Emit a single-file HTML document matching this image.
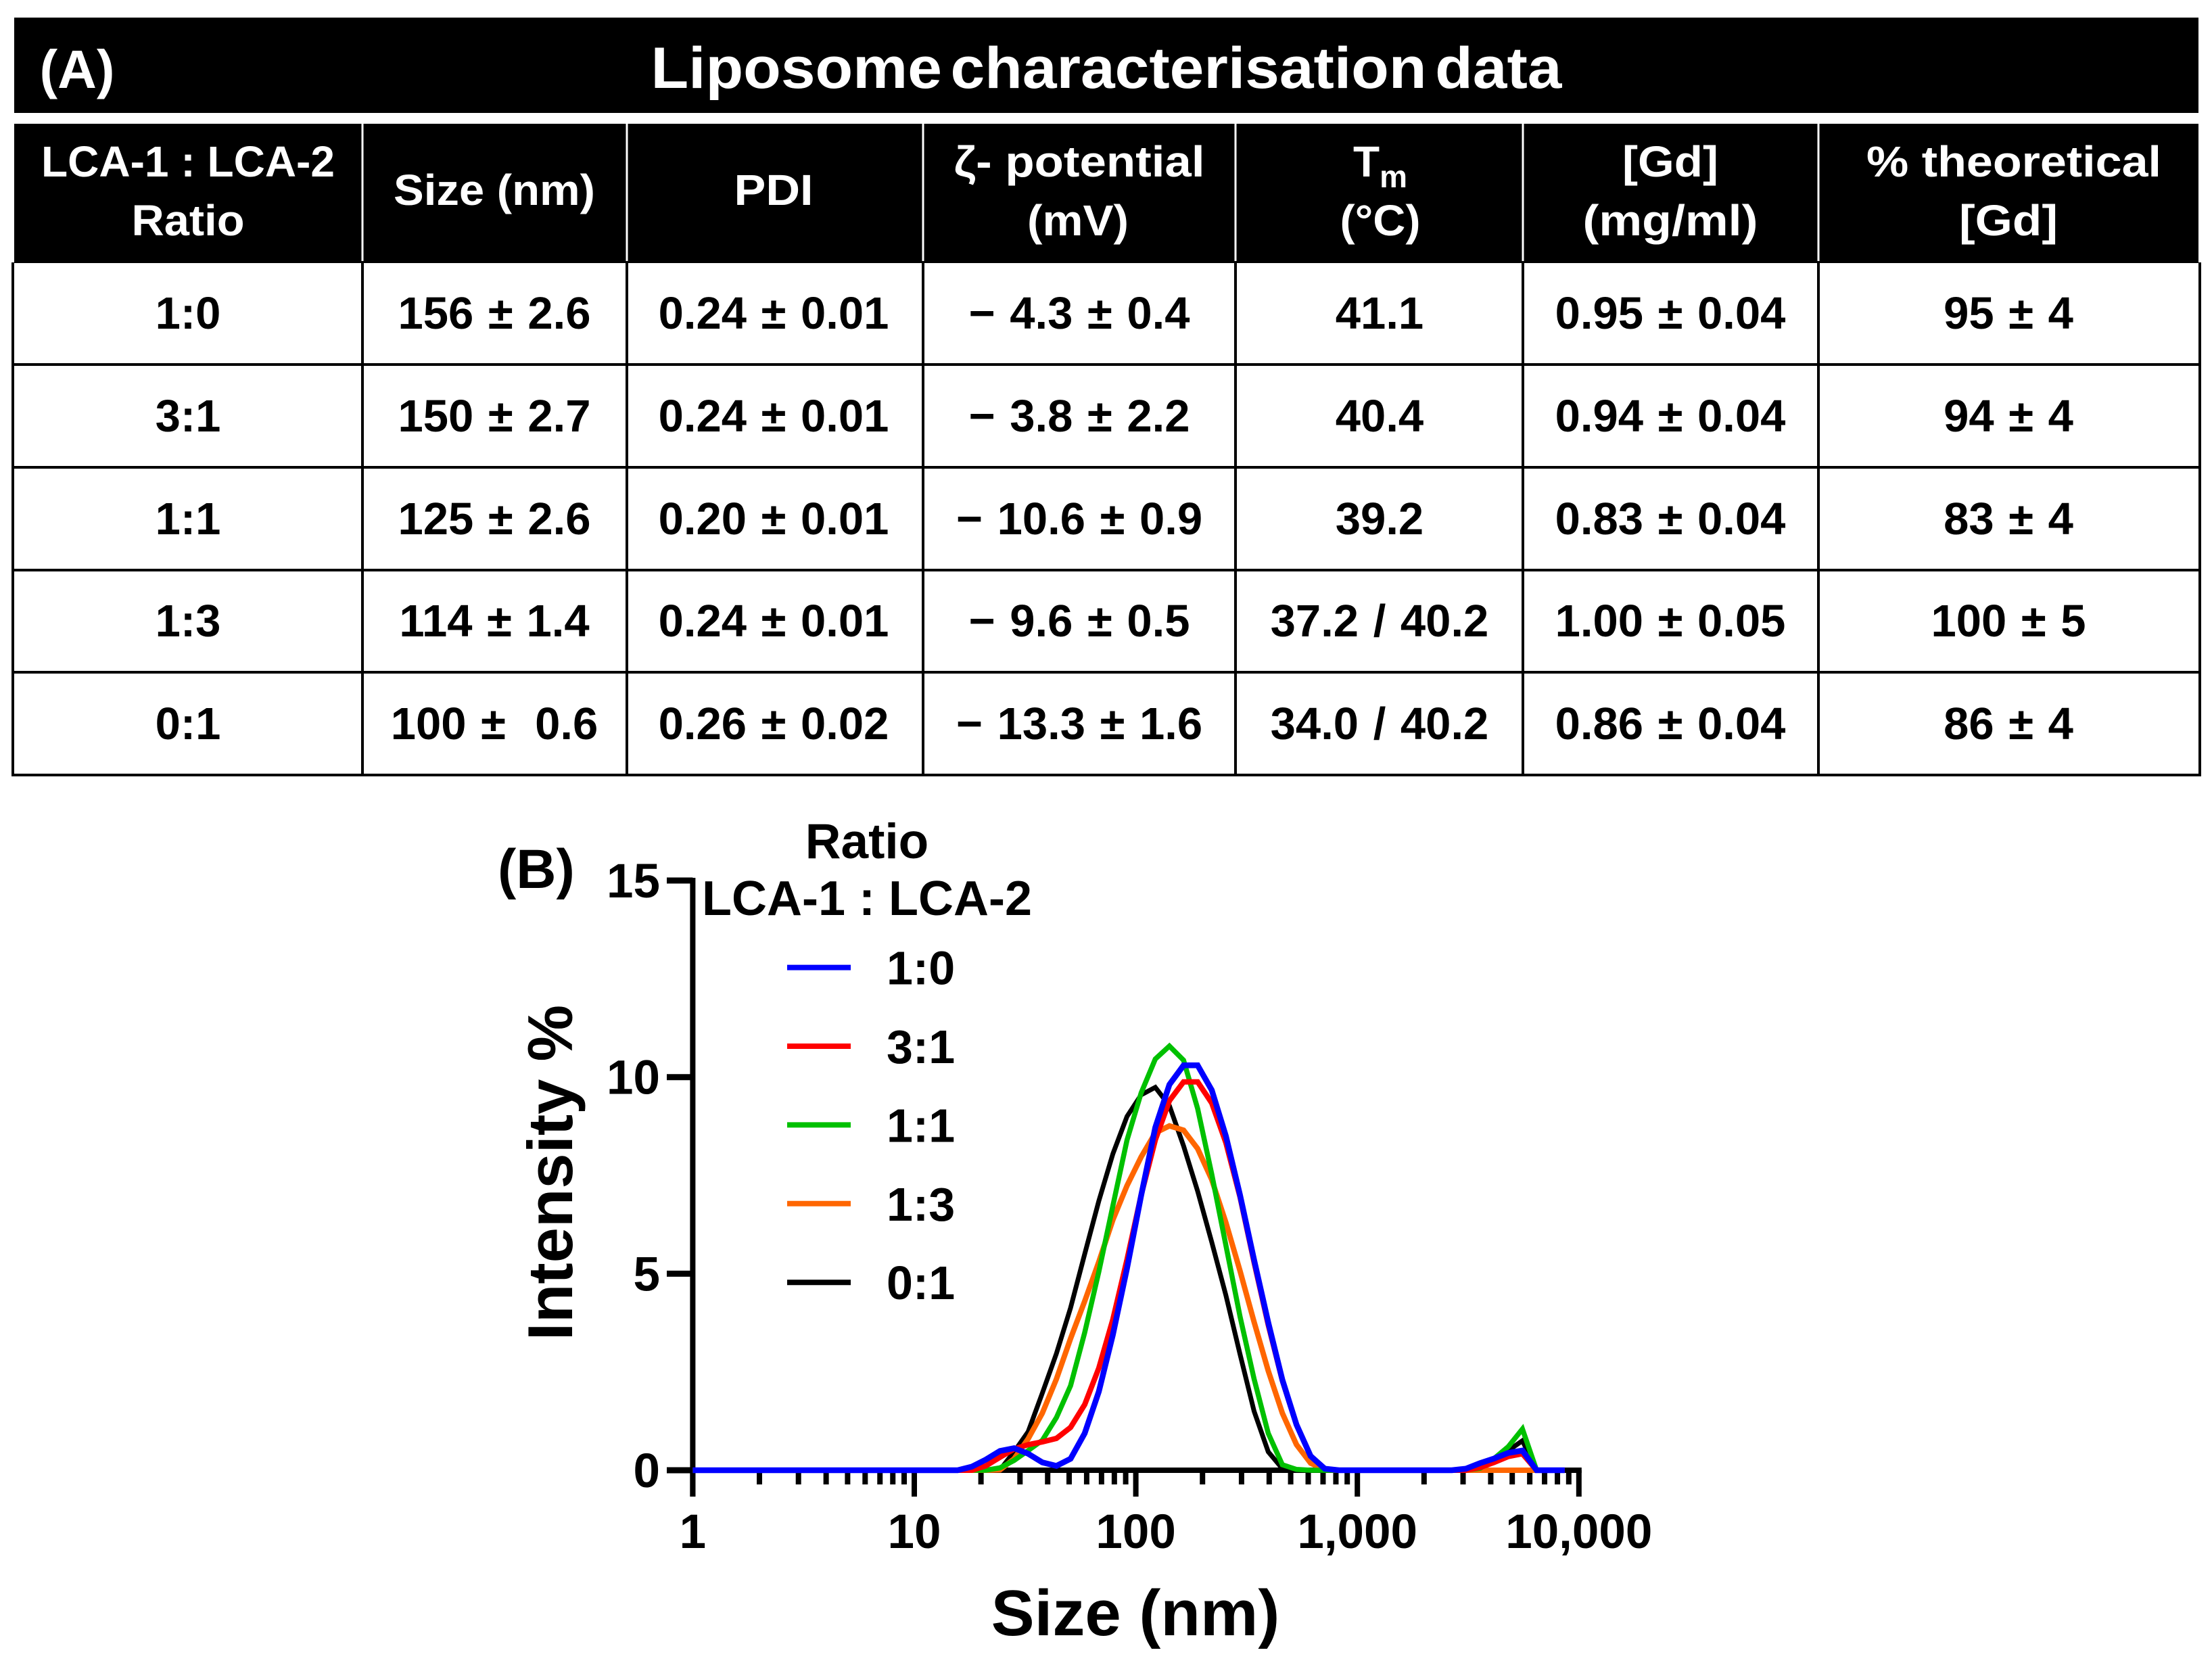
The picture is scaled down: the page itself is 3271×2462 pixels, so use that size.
<!DOCTYPE html>
<html lang="en">
<head>
<meta charset="utf-8">
<title>Liposome characterisation data</title>
<style>
html,body{margin:0;padding:0;background:#fff;width:3271px;height:2462px;overflow:hidden}
svg{display:block}
text{font-family:"Liberation Sans",sans-serif;font-weight:700}
#table-panel text{text-anchor:middle}
.hd{fill:#fff;font-size:64px}
.bd{fill:#000;font-size:67px;word-spacing:3px;white-space:pre}
.rule{stroke:#000;stroke-width:4}
.hrule{stroke:#fff;stroke-width:3}
</style>
</head>
<body>
<svg id="figure" xmlns="http://www.w3.org/2000/svg" width="3271" height="2462" viewBox="0 0 3271 2462">
<rect width="3271" height="2462" fill="#fff"/>
<g id="table-panel">
  <rect x="21" y="26" width="3230" height="141" fill="#000"/>
  <text x="114" y="130" font-size="80" fill="#fff">(A)</text>
  <text x="1636" y="130" font-size="86" fill="#fff" word-spacing="-12" textLength="1347" lengthAdjust="spacingAndGlyphs">Liposome characterisation data</text>
  <rect x="21" y="183" width="3230" height="206" fill="#000"/>
  <g>
    <line class="hrule" x1="536" x2="536" y1="183" y2="386"/><line class="hrule" x1="927" x2="927" y1="183" y2="386"/><line class="hrule" x1="1365" x2="1365" y1="183" y2="386"/><line class="hrule" x1="1827" x2="1827" y1="183" y2="386"/><line class="hrule" x1="2252" x2="2252" y1="183" y2="386"/><line class="hrule" x1="2689" x2="2689" y1="183" y2="386"/>
  </g>
  <g>
    <line class="rule" x1="19" x2="19" y1="388" y2="1147"/><line class="rule" x1="536" x2="536" y1="388" y2="1147"/><line class="rule" x1="927" x2="927" y1="388" y2="1147"/><line class="rule" x1="1365" x2="1365" y1="388" y2="1147"/><line class="rule" x1="1827" x2="1827" y1="388" y2="1147"/><line class="rule" x1="2252" x2="2252" y1="388" y2="1147"/><line class="rule" x1="2689" x2="2689" y1="388" y2="1147"/><line class="rule" x1="3253" x2="3253" y1="388" y2="1147"/>
    <line class="rule" x1="17" x2="3255" y1="539" y2="539"/><line class="rule" x1="17" x2="3255" y1="691" y2="691"/><line class="rule" x1="17" x2="3255" y1="843" y2="843"/><line class="rule" x1="17" x2="3255" y1="994" y2="994"/><line class="rule" x1="17" x2="3255" y1="1146" y2="1146"/>
  </g>
  <g>
    <text class="hd" x="278" y="261" textLength="434" lengthAdjust="spacingAndGlyphs">LCA-1 : LCA-2</text>
    <text class="hd" x="278" y="348" textLength="167" lengthAdjust="spacingAndGlyphs">Ratio</text>
    <text class="hd" x="731" y="303" textLength="298" lengthAdjust="spacingAndGlyphs">Size (nm)</text>
    <text class="hd" x="1144" y="303" textLength="117" lengthAdjust="spacingAndGlyphs">PDI</text>
    <text class="hd" x="1596" y="261" textLength="371" lengthAdjust="spacingAndGlyphs">ζ- potential</text>
    <text class="hd" x="1594" y="348" textLength="150" lengthAdjust="spacingAndGlyphs">(mV)</text>
    <text class="hd" x="2041" y="261">T<tspan font-size="46" dy="16">m</tspan></text>
    <text class="hd" x="2041" y="348" textLength="119" lengthAdjust="spacingAndGlyphs">(°C)</text>
    <text class="hd" x="2470" y="261" textLength="142" lengthAdjust="spacingAndGlyphs">[Gd]</text>
    <text class="hd" x="2470" y="348" textLength="259" lengthAdjust="spacingAndGlyphs">(mg/ml)</text>
    <text class="hd" x="2978" y="261" textLength="436" lengthAdjust="spacingAndGlyphs">% theoretical</text>
    <text class="hd" x="2970" y="348" textLength="146" lengthAdjust="spacingAndGlyphs">[Gd]</text>
  </g>
  <g>
    <text class="bd" x="278" y="486">1:0</text><text class="bd" x="731" y="486">156 ± 2.6</text><text class="bd" x="1144" y="486">0.24 ± 0.01</text><text class="bd" x="1596" y="486">− 4.3 ± 0.4</text><text class="bd" x="2040" y="486">41.1</text><text class="bd" x="2470" y="486">0.95 ± 0.04</text><text class="bd" x="2970" y="486">95 ± 4</text>
  </g>
  <g>
    <text class="bd" x="278" y="638">3:1</text><text class="bd" x="731" y="638">150 ± 2.7</text><text class="bd" x="1144" y="638">0.24 ± 0.01</text><text class="bd" x="1596" y="638">− 3.8 ± 2.2</text><text class="bd" x="2040" y="638">40.4</text><text class="bd" x="2470" y="638">0.94 ± 0.04</text><text class="bd" x="2970" y="638">94 ± 4</text>
  </g>
  <g>
    <text class="bd" x="278" y="790">1:1</text><text class="bd" x="731" y="790">125 ± 2.6</text><text class="bd" x="1144" y="790">0.20 ± 0.01</text><text class="bd" x="1596" y="790">− 10.6 ± 0.9</text><text class="bd" x="2040" y="790">39.2</text><text class="bd" x="2470" y="790">0.83 ± 0.04</text><text class="bd" x="2970" y="790">83 ± 4</text>
  </g>
  <g>
    <text class="bd" x="278" y="941">1:3</text><text class="bd" x="731" y="941">114 ± 1.4</text><text class="bd" x="1144" y="941">0.24 ± 0.01</text><text class="bd" x="1596" y="941">− 9.6 ± 0.5</text><text class="bd" x="2040" y="941">37.2 / 40.2</text><text class="bd" x="2470" y="941">1.00 ± 0.05</text><text class="bd" x="2970" y="941">100 ± 5</text>
  </g>
  <g>
    <text class="bd" x="278" y="1093">0:1</text><text class="bd" x="731" y="1093">100 ±  0.6</text><text class="bd" x="1144" y="1093">0.26 ± 0.02</text><text class="bd" x="1596" y="1093">− 13.3 ± 1.6</text><text class="bd" x="2040" y="1093">34.0 / 40.2</text><text class="bd" x="2470" y="1093">0.86 ± 0.04</text><text class="bd" x="2970" y="1093">86 ± 4</text>
  </g>
</g>
<g id="chart-panel">
  <text x="736" y="1313" font-size="82">(B)</text>
  <text x="0" y="0" font-size="94" text-anchor="middle" transform="translate(846 1734) rotate(-90)">Intensity %</text>
  <text x="1679" y="2418" font-size="96" text-anchor="middle">Size (nm)</text>
  <text x="1282" y="1269" font-size="73" text-anchor="middle">Ratio</text>
  <text x="1282" y="1353" font-size="72" text-anchor="middle">LCA-1 : LCA-2</text>
  <g id="axes"></g>
  <g id="series"></g>
  <g id="legend"></g>
</g>
</svg>
<script>
var seriesLabels = ['0:1', '1:3', '1:1', '3:1', '1:0'];
var seriesColors = ['#000000', '#ff6600', '#00c000', '#ff0000', '#0000ff'];
var legendOrder = ['1:0', '3:1', '1:1', '1:3', '0:1'];
var sizes = [1, 1.117, 1.294, 1.499, 1.736, 2.01, 2.328, 2.696, 3.122, 3.615, 4.187, 4.849, 5.615, 6.503, 7.531, 8.721, 10.1, 11.7, 13.54, 15.69, 18.17, 21.04, 24.36, 28.21, 32.67, 37.84, 43.82, 50.75, 58.77, 68.06, 78.82, 91.28, 105.7, 122.4, 141.8, 164.2, 190.1, 220.2, 255, 295.3, 342, 396.1, 458.7, 531.2, 615.1, 712.4, 825, 955.4, 1106, 1281, 1484, 1718, 1990, 2305, 2669, 3091, 3580, 4145, 4801, 5560, 6439, 7456, 8635];
var ratio1to0 = [0,0,0,0,0,0,0,0,0,0,0,0,0,0,0,0,0,0,0,0, 0.09,0.27,0.49,0.56,0.42,0.2,0.11,0.29,0.94,2.0,3.45,5.14,6.99,8.72,9.81,10.3,10.3,9.67,8.5,7.0,5.35,3.76,2.3,1.16,0.36,0.04,0, 0,0,0,0,0,0, 0,0,0.04,0.18,0.3,0.44,0.5,0,0,0];
var ratio3to1 = [0,0,0,0,0,0,0,0,0,0,0,0,0,0,0,0,0,0,0,0, 0,0.11,0.33,0.54,0.65,0.72,0.81,1.09,1.67,2.6,3.84,5.36,7.0,8.4,9.4,9.88,9.88,9.34,8.33,6.95,5.29,3.7,2.28,1.16,0.36,0.04,0, 0,0,0,0,0,0, 0,0,0,0.07,0.2,0.35,0.42,0,0,0];
var ratio1to1 = [0,0,0,0,0,0,0,0,0,0,0,0,0,0,0,0,0,0,0,0, 0,0,0.06,0.25,0.5,0.76,1.34,2.15,3.5,5.05,6.73,8.4,9.6,10.46,10.79,10.43,9.2,7.53,5.72,3.91,2.32,0.94,0.14,0.02,0,0,0, 0,0,0,0,0,0, 0,0,0,0.05,0.3,0.6,1.05,0,0,0];
var ratio1to3 = [0,0,0,0,0,0,0,0,0,0,0,0,0,0,0,0,0,0,0,0, 0,0,0.01,0.29,0.8,1.45,2.32,3.35,4.3,5.3,6.37,7.24,7.97,8.58,8.76,8.65,8.18,7.39,6.3,5.07,3.77,2.53,1.45,0.65,0.18,0.01,0, 0,0,0,0,0,0, 0,0,0,0,0,0,0,0,0,0];
var ratio0to1 = [0,0,0,0,0,0,0,0,0,0,0,0,0,0,0,0,0,0,0,0, 0,0,0.01,0.47,0.98,1.96,2.97,4.13,5.5,6.85,8.05,9.0,9.55,9.74,9.27,8.25,7.1,5.8,4.45,2.95,1.5,0.47,0.04,0,0,0,0, 0,0,0,0,0,0, 0,0,0,0.07,0.3,0.5,0.75,0,0,0];
var xTickValues = [1, 10, 100, 1000, 10000];
var xTickLabels = ['1', '10', '100', '1,000', '10,000'];
var yTickValues = [0, 5, 10, 15];
var yTickLabels = ['0', '5', '10', '15'];

var NS = 'http://www.w3.org/2000/svg';
var X0 = 1024.4, XDECADE = 327.6, Y0 = 2174, YUNIT = 58.13;
var lineWidths = [7, 8, 7.5, 8, 8.5];
function xScale(v) { return X0 + XDECADE * Math.log10(v); }
function yScale(v) { return Y0 - YUNIT * v; }
function mk(tag, parent, attrs, text) {
  var el = document.createElementNS(NS, tag);
  for (var k in attrs) el.setAttribute(k, attrs[k]);
  if (text !== undefined) el.textContent = text;
  parent.appendChild(el);
  return el;
}
var axes = document.getElementById('axes');
var seriesGroup = document.getElementById('series');
var legend = document.getElementById('legend');
var seriesValues = [ratio0to1, ratio1to3, ratio1to1, ratio3to1, ratio1to0];
var el;

el = mk('line', axes, {x1: xScale(1), x2: xScale(1), y1: yScale(15) - 4, y2: Y0 + 39, stroke: '#000', 'stroke-width': 8});


el = mk('line', axes, {x1: 986, x2: xScale(10000) + 4, y1: Y0, y2: Y0, stroke: '#000', 'stroke-width': 8});



yTickValues.forEach(function (v, i) {
  var t = mk('line', axes, {x1: 986, x2: xScale(1), y1: yScale(v), y2: yScale(v), stroke: '#000', 'stroke-width': 9});
  
  
  var l = mk('text', axes, {x: 976, y: yScale(v) + 25, 'font-size': 71, 'text-anchor': 'end'}, yTickLabels[i]);
  
  
});

xTickValues.forEach(function (v, i) {
  var t = mk('line', axes, {x1: xScale(v), x2: xScale(v), y1: Y0, y2: 2213, stroke: '#000', 'stroke-width': 8});
  
  
  var l = mk('text', axes, {x: xScale(v), y: 2289, 'font-size': 71, 'text-anchor': 'middle'}, xTickLabels[i]);
  
  
  if (i < xTickValues.length - 1) {
    for (var m = 2; m < 10; m++) {
      var mt = mk('line', axes, {x1: xScale(v * m), x2: xScale(v * m), y1: Y0, y2: 2195, stroke: '#000', 'stroke-width': 8});
      
      
    }
  }
});

seriesValues.forEach(function (vals, s) {
  var pts = vals.map(function (v, i) { return xScale(sizes[i]).toFixed(1) + ',' + yScale(v).toFixed(1); }).join(' ');
  var line = mk('polyline', seriesGroup, {points: pts, fill: 'none', stroke: seriesColors[s], 'stroke-width': lineWidths[s], 'stroke-linejoin': 'miter', 'stroke-miterlimit': 8});
  
  
});

legendOrder.forEach(function (label, i) {
  var s = seriesLabels.indexOf(label);
  var y = 1430.6 + i * 116.4;
  var sw = mk('line', legend, {x1: 1164, x2: 1258, y1: y, y2: y, stroke: seriesColors[s], 'stroke-width': 8});
  
  
  var tx = mk('text', legend, {x: 1311, y: y + 25, 'font-size': 70}, label);
  
  
});
</script>
</body>
</html>
